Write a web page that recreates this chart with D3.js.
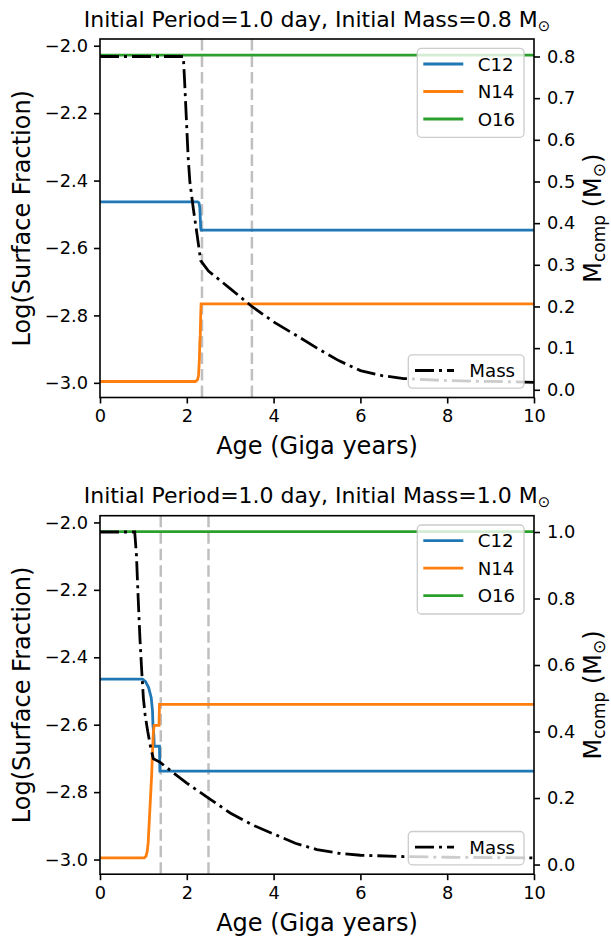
<!DOCTYPE html>
<html>
<head>
<meta charset="utf-8">
<script src="https://cdn.jsdelivr.net/npm/d3@7"></script>
<style>
  body { margin: 0; background: #fff; }
  svg { display: block; font-family: "DejaVu Sans", sans-serif; }
</style>
</head>
<body>
<svg id="chart" width="611" height="938"></svg>
<script>
// ---- data: [age (Gyr), value] ----
const titles = ["Initial Period=1.0 day, Initial Mass=0.8 M", "Initial Period=1.0 day, Initial Mass=1.0 M"]
const speciesNames = ["C12", "N14", "O16"]
const speciesColors = ["#1f77b4", "#ff7f0e", "#2ca02c"]

const c12Top = [[0,-2.463],[2.25,-2.463],[2.28,-2.466],[2.3,-2.48],[2.31,-2.51],[2.32,-2.54],[2.33,-2.547],[10,-2.547]]
const n14Top = [[0,-2.996],[2.2,-2.996],[2.25,-2.99],[2.27,-2.978],[2.29,-2.93],[2.3,-2.88],[2.31,-2.86],[2.32,-2.8],[2.33,-2.766],[10,-2.766]]
const o16Top = [[0,-2.028],[10,-2.028]]
const massTop = [[0,0.8],[1.92,0.8],[1.95,0.74],[1.99,0.65],[2.03,0.56],[2.07,0.5],[2.15,0.435],[2.24,0.37],[2.32,0.31],[2.5,0.285],[3.0,0.243],[3.5,0.2],[4.0,0.163],[4.5,0.132],[5.0,0.1],[5.5,0.07],[6.0,0.046],[6.5,0.034],[7.0,0.027],[8.0,0.022],[9.0,0.02],[10,0.018]]
const dashTop = [2.35, 3.5]

const c12Bot = [[0,-2.465],[0.98,-2.465],[1.05,-2.472],[1.12,-2.49],[1.18,-2.52],[1.21,-2.56],[1.22,-2.6],[1.24,-2.63],[1.25,-2.664],[1.37,-2.664],[1.38,-2.738],[10,-2.738]]
const n14Bot = [[0,-2.995],[1.02,-2.995],[1.06,-2.99],[1.09,-2.975],[1.11,-2.95],[1.13,-2.9],[1.15,-2.85],[1.17,-2.8],[1.19,-2.75],[1.21,-2.68],[1.23,-2.62],[1.25,-2.602],[1.36,-2.602],[1.37,-2.54],[10,-2.54]]
const o16Bot = [[0,-2.027],[10,-2.027]]
const massBot = [[0,1.0],[0.8,1.0],[0.84,0.93],[0.88,0.8],[0.92,0.68],[0.96,0.585],[1.0,0.5],[1.04,0.45],[1.1,0.4],[1.17,0.35],[1.23,0.318],[1.38,0.308],[1.7,0.275],[2.0,0.245],[2.5,0.2],[3.0,0.155],[3.5,0.12],[4.0,0.092],[4.5,0.064],[5.0,0.045],[5.5,0.034],[6.0,0.028],[7.0,0.024],[8.0,0.022],[10,0.02]]
const dashBot = [1.4, 2.5]

const xTicks = [0, 2, 4, 6, 8, 10]
const yTicks = [-3.0, -2.8, -2.6, -2.4, -2.2, -2.0]
const massTicksTop = [0.0, 0.1, 0.2, 0.3, 0.4, 0.5, 0.6, 0.7, 0.8]
const massTicksBot = [0.0, 0.2, 0.4, 0.6, 0.8, 1.0]

const panels = [
  {top: 39, title: titles[0], species: [c12Top, n14Top, o16Top], mass: massTop, dashes: dashTop, massTicks: massTicksTop, massDomain: [-0.0185, 0.842]},
  {top: 515.7, title: titles[1], species: [c12Bot, n14Bot, o16Bot], mass: massBot, dashes: dashBot, massTicks: massTicksBot, massDomain: [-0.029, 1.049]}
]

const left = 100, right = 534, plotH = 358.5
const svg = d3.select("#chart")
const fmt = d3.format(".1f")
const minus = s => s.replace("-", "\u2212")

function drawPanel(p, i){
  const g = svg.append("g")
  const bottom = p.top + plotH
  const x = d3.scaleLinear().domain([0, 10]).range([left, right])
  const y = d3.scaleLinear().domain([-3.0435, -1.98]).range([bottom, p.top])
  const y2 = d3.scaleLinear().domain(p.massDomain).range([bottom, p.top])

  const clipId = "clip" + i
  g.append("clipPath").attr("id", clipId)
    .append("rect").attr("x", left).attr("y", p.top).attr("width", right-left).attr("height", plotH)

  const plot = g.append("g").attr("clip-path", `url(#${clipId})`)

  // vertical markers
  plot.selectAll(".vdash").data(p.dashes).join("line")
    .attr("x1", d => x(d)).attr("x2", d => x(d))
    .attr("y1", p.top).attr("y2", bottom)
    .attr("stroke", "#bfbfbf").attr("stroke-width", 2.5)
    .attr("stroke-dasharray", "11.5,5")

  const line = sc => d3.line().x(d => x(d[0])).y(d => sc(d[1]))

  plot.selectAll(".spec").data(p.species).join("path")
    .attr("d", d => line(y)(d))
    .attr("fill", "none")
    .attr("stroke", (d, k) => speciesColors[k])
    .attr("stroke-width", 2.8)

  // legend for species
  const lg = g.append("g")
  lg.append("rect").attr("x", 417.3).attr("y", p.top + 9.3).attr("width", 106.7).attr("height", 89)
    .attr("rx", 4).attr("fill", "white").attr("fill-opacity", 0.8)
    .attr("stroke", "#cccccc").attr("stroke-width", 1.3)
  speciesNames.forEach((n, k) => {
    const yy = p.top + 25 + k*27.5
    lg.append("line").attr("x1", 423.3).attr("x2", 463.3).attr("y1", yy).attr("y2", yy)
      .attr("stroke", speciesColors[k]).attr("stroke-width", 2.8)
    lg.append("text").attr("x", 477.7).attr("y", yy).attr("dy", "0.36em")
      .attr("font-size", 18.2).text(n)
  })

  // companion mass on the twin axis
  const plot2 = g.append("g").attr("clip-path", `url(#${clipId})`)
  plot2.append("path").attr("d", line(y2)(p.mass))
    .attr("fill", "none").attr("stroke", "black").attr("stroke-width", 2.8)
    .attr("stroke-dasharray", "19,5,3,5")

  const ml = g.append("g")
  ml.append("rect").attr("x", 408.3).attr("y", bottom - 42.7).attr("width", 115.7).attr("height", 33.3)
    .attr("rx", 4).attr("fill", "white").attr("fill-opacity", 0.8)
    .attr("stroke", "#cccccc").attr("stroke-width", 1.3)
  ml.append("line").attr("x1", 415).attr("x2", 454).attr("y1", bottom - 27).attr("y2", bottom - 27)
    .attr("stroke", "black").attr("stroke-width", 2.8).attr("stroke-dasharray", "19,5,3,5")
  ml.append("text").attr("x", 469.3).attr("y", bottom - 27).attr("dy", "0.36em")
    .attr("font-size", 18.2).text("Mass")

  // axes
  const xa = g.append("g").attr("transform", `translate(0,${bottom})`)
    .call(d3.axisBottom(x).tickValues(xTicks).tickFormat(d3.format("d")).tickSizeOuter(0).tickSize(6).tickPadding(6))
  const ya = g.append("g").attr("transform", `translate(${left},0)`)
    .call(d3.axisLeft(y).tickValues(yTicks).tickFormat(d => minus(fmt(d))).tickSizeOuter(0).tickSize(6).tickPadding(6))
  const y2a = g.append("g").attr("transform", `translate(${right},0)`)
    .call(d3.axisRight(y2).tickValues(p.massTicks).tickFormat(fmt).tickSizeOuter(0).tickSize(6).tickPadding(7))
  ;[xa, ya, y2a].forEach(a => {
    a.select(".domain").remove()
    a.selectAll("line").attr("stroke", "black").attr("stroke-width", 1.6)
    a.selectAll("text").attr("font-size", 17.8).attr("font-family", "DejaVu Sans").attr("fill", "black")
  })
  xa.selectAll("text").attr("dy", "0.71em").attr("y", 12)

  g.append("rect").attr("x", left).attr("y", p.top).attr("width", right-left).attr("height", plotH)
    .attr("fill", "none").attr("stroke", "black").attr("stroke-width", 1.6)

  // labels
  const t = g.append("text").attr("x", (left+right)/2).attr("y", p.top - 12.3)
    .attr("text-anchor", "middle").attr("font-size", 22).text(p.title)
  t.append("tspan").attr("font-size", 15).attr("dy", 4).text("\u2299")

  g.append("text").attr("x", (left+right)/2).attr("y", bottom + 56.5)
    .attr("text-anchor", "middle").attr("font-size", 24).text("Age (Giga years)")

  g.append("text").attr("transform", `translate(30,${p.top + plotH/2}) rotate(-90)`)
    .attr("text-anchor", "middle").attr("font-size", 24).text("Log(Surface Fraction)")

  const r = g.append("text").attr("transform", `translate(601,${p.top + plotH/2}) rotate(-90)`)
    .attr("text-anchor", "middle").attr("font-size", 24)
  r.append("tspan").text("M")
  r.append("tspan").attr("font-size", 17).attr("dy", 4).text("comp")
  r.append("tspan").attr("dy", -4).text(" (M")
  r.append("tspan").attr("font-size", 17).attr("dy", 4).text("\u2299")
  r.append("tspan").attr("dy", -4).text(")")
}

panels.forEach(drawPanel)
</script>
</body>
</html>
